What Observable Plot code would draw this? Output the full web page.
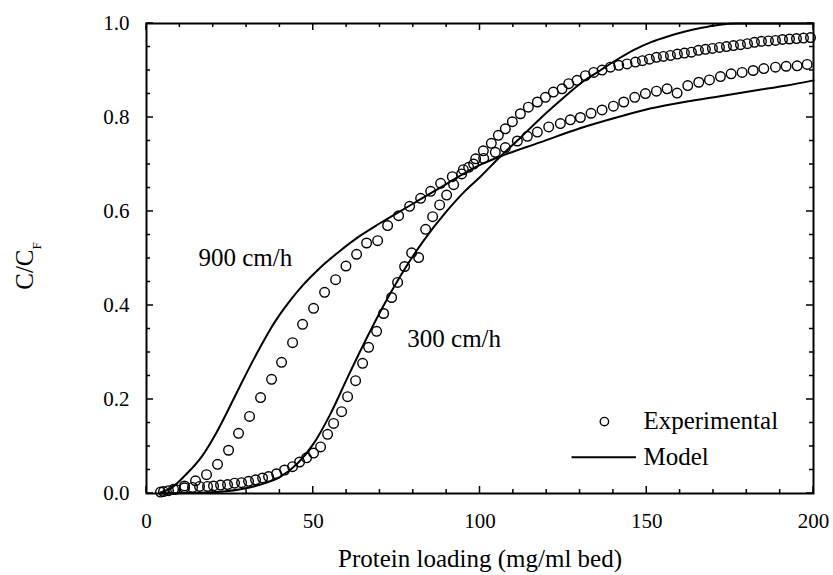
<!DOCTYPE html>
<html><head><meta charset="utf-8">
<script src="https://cdn.jsdelivr.net/npm/d3@7"></script>
<script src="https://cdn.jsdelivr.net/npm/@observablehq/plot@0.6"></script>
<style>body{margin:0;background:#fff}</style>
</head><body><div id="chart"></div>
<script>
// ---- data ----
const exp900X = [5.1,8.1,11.4,14.7,18.0,21.3,24.6,27.6,30.9,34.2,37.5,40.5,43.8,46.8,50.1,53.4,56.7,59.8,63.0,66.0,69.3,72.3,75.6,78.9,82.2,85.2,88.2,91.7,95.0,98.1,101.1,104.6,107.6,111.2,114.2,117.2,120.6,124.1,127.1,130.1,133.3,136.6,140.0,143.1,146.4,149.6,152.9,156.1,159.1,162.3,165.6,168.8,172.1,175.3,178.6,181.9,185.1,188.6,191.8,195.1,198.1];
const exp900Y = [0.004,0.009,0.016,0.027,0.040,0.062,0.092,0.128,0.164,0.204,0.243,0.279,0.321,0.360,0.394,0.428,0.455,0.484,0.509,0.533,0.538,0.570,0.591,0.611,0.628,0.643,0.660,0.674,0.689,0.701,0.713,0.726,0.736,0.750,0.760,0.769,0.780,0.787,0.795,0.800,0.809,0.816,0.824,0.833,0.843,0.851,0.856,0.861,0.852,0.868,0.875,0.880,0.887,0.893,0.896,0.900,0.904,0.907,0.909,0.910,0.913];

const exp300X = [4.2,6.6,8.7,11.4,13.8,15.9,18.3,20.1,22.2,24.3,26.4,28.5,30.6,32.7,34.8,36.6,39.0,41.4,43.8,45.9,48.0,50.1,52.2,54.3,56.1,58.5,60.3,62.7,64.8,66.6,69.0,71.1,73.5,75.3,77.4,79.5,81.6,83.7,85.8,87.9,90.0,92.1,94.5,96.6,98.7,101.0,103.4,105.5,107.6,109.7,112.1,114.5,117.2,119.6,122.0,124.6,126.6,129.1,131.6,134.1,136.6,139.1,141.6,144.1,146.6,148.7,150.8,152.9,155.0,157.1,159.2,161.3,163.4,165.5,167.6,169.7,171.8,173.9,176.0,178.1,180.2,182.3,184.4,186.5,188.6,190.7,192.8,194.9,197.0,199.1];
const exp300Y = [0.003,0.006,0.009,0.012,0.013,0.015,0.015,0.016,0.018,0.019,0.022,0.023,0.026,0.029,0.033,0.036,0.042,0.050,0.057,0.067,0.076,0.086,0.099,0.126,0.149,0.174,0.206,0.240,0.277,0.311,0.345,0.383,0.417,0.449,0.483,0.512,0.502,0.562,0.589,0.614,0.635,0.657,0.680,0.694,0.712,0.729,0.745,0.762,0.776,0.791,0.808,0.822,0.833,0.843,0.854,0.861,0.872,0.879,0.889,0.896,0.901,0.907,0.911,0.914,0.918,0.921,0.924,0.928,0.930,0.932,0.935,0.937,0.939,0.943,0.945,0.947,0.949,0.951,0.953,0.955,0.957,0.960,0.962,0.963,0.964,0.966,0.967,0.968,0.969,0.970];

const model900X = [4.2,7.5,11.5,16.5,21.0,25.0,28.0,31.0,34.0,37.0,40.0,43.0,46.0,49.0,52.0,58.0,64.0,70.0,80.0,90.0,100.0,106.0,118.0,130.0,142.0,151.0,162.0,172.0,182.0,192.0,200.0];
const model900Y = [0.002,0.012,0.038,0.078,0.130,0.185,0.228,0.270,0.310,0.348,0.381,0.410,0.436,0.459,0.480,0.516,0.548,0.575,0.617,0.659,0.699,0.717,0.747,0.777,0.802,0.819,0.834,0.845,0.857,0.868,0.879];

const model300X = [4.2,18.0,28.2,35.1,40.2,45.3,50.1,55.2,60.3,65.7,71.1,77.1,83.1,89.7,95.7,100.1,106.1,112.1,118.1,124.1,131.0,136.0,141.5,146.5,151.5,156.5,161.5,166.5,171.5,177.0,200.0];
const model300Y = [0.000,0.002,0.009,0.021,0.036,0.064,0.106,0.170,0.247,0.326,0.400,0.474,0.538,0.598,0.645,0.674,0.717,0.757,0.798,0.836,0.877,0.900,0.925,0.945,0.961,0.973,0.983,0.991,0.997,1.000,1.000];

const xMajor = [0, 50, 100, 150, 200];
const xMinor = [10,20,30,40,60,70,80,90,110,120,130,140,160,170,180,190];
const yMajor = [0, 0.2, 0.4, 0.6, 0.8, 1.0];
const yMinor = [0.05,0.1,0.15,0.25,0.3,0.35,0.45,0.5,0.55,0.65,0.7,0.75,0.85,0.9,0.95];
const yTickLabels = ["0.0","0.2","0.4","0.6","0.8","1.0"];

const seriesLabels = ["900 cm/h", "300 cm/h"];
const legendLabels = ["Experimental", "Model"];
const xTitle = "Protein loading (mg/ml bed)";

// ---- tables ----
const toRows = (xs, ys) => xs.map((x, i) => ({x, y: ys[i]}));
const e900 = toRows(exp900X, exp900Y);
const e300 = toRows(exp300X, exp300Y);
const m900 = toRows(model900X, model900Y);
const m300 = toRows(model300X, model300Y);

const FONT = "'Liberation Serif', 'Times New Roman', serif";

const chart = Plot.plot({
  width: 833, height: 575,
  marginLeft: 146, marginRight: 20, marginTop: 23, marginBottom: 82,
  x: {domain: [0, 200]},
  y: {domain: [0, 1]},
  style: {fontFamily: FONT, background: "white", color: "black"},
  marks: [
    Plot.axisX({ticks: xMajor, tickSize: 0, tickPadding: 20, fontSize: 21, label: null, tickFormat: d => String(d)}),
    Plot.axisY({ticks: yMajor, tickSize: 0, tickPadding: 17, fontSize: 21, label: null, tickFormat: d => yTickLabels[yMajor.indexOf(d)]}),
    Plot.line(m900, {x: "x", y: "y", stroke: "black", strokeWidth: 2, curve: "monotone-x"}),
    Plot.line(m300, {x: "x", y: "y", stroke: "black", strokeWidth: 2, curve: "monotone-x"}),
    Plot.dot(e900, {x: "x", y: "y", r: 4.8, stroke: "black", strokeWidth: 1.4, fill: "none"}),
    Plot.dot(e300, {x: "x", y: "y", r: 4.8, stroke: "black", strokeWidth: 1.4, fill: "none"}),
    Plot.text([seriesLabels[0]], {x: 15.6, y: 0.502, text: d => d, textAnchor: "start", fontSize: 25}),
    Plot.text([seriesLabels[1]], {x: 78.2, y: 0.328, text: d => d, textAnchor: "start", fontSize: 25}),
    // legend
    Plot.dot([0], {x: 137.3, y: 0.153, r: 4.2, stroke: "black", strokeWidth: 1.4, fill: "none"}),
    Plot.text([legendLabels[0]], {x: 149.0, y: 0.154, text: d => d, textAnchor: "start", fontSize: 25}),
    Plot.ruleY([0.077], {x1: 127.6, x2: 146.9, stroke: "black", strokeWidth: 2}),
    Plot.text([legendLabels[1]], {x: 149.0, y: 0.077, text: d => d, textAnchor: "start", fontSize: 25}),
    Plot.text([xTitle], {frameAnchor: "bottom", dy: 73, text: d => d, fontSize: 25}),
    Plot.frame({stroke: "black", strokeWidth: 2})
  ]
});

document.getElementById("chart").appendChild(chart);

// inward ticks on all four sides, placed with the plot's own scales
const sx = chart.scale("x"), sy = chart.scale("y");
const svg = d3.select(chart);
const g = svg.append("g").attr("stroke", "black").attr("stroke-width", 1.5);
const x0 = sx.apply(0), x1 = sx.apply(200), y0 = sy.apply(0), y1 = sy.apply(1);
function xt(v, len) {
  const px = sx.apply(v);
  g.append("line").attr("x1", px).attr("x2", px).attr("y1", y0).attr("y2", y0 - len);
  g.append("line").attr("x1", px).attr("x2", px).attr("y1", y1).attr("y2", y1 + len);
}
function yt(v, len) {
  const py = sy.apply(v);
  g.append("line").attr("y1", py).attr("y2", py).attr("x1", x0).attr("x2", x0 + len);
  g.append("line").attr("y1", py).attr("y2", py).attr("x1", x1).attr("x2", x1 - len);
}
xMajor.forEach(v => xt(v, 7));
xMinor.forEach(v => xt(v, 4));
yMajor.forEach(v => yt(v, 7));
yMinor.forEach(v => yt(v, 4));

// y-axis title C/C_F
const yTitle = svg.append("text")
  .attr("transform", `translate(33,${(y0 + y1) / 2 + 8}) rotate(-90)`)
  .attr("text-anchor", "middle")
  .attr("font-family", FONT)
  .attr("font-size", 25)
  .attr("fill", "black");
yTitle.append("tspan").text("C/C");
yTitle.append("tspan").attr("baseline-shift", "sub").attr("font-size", 13).text("F");
</script>
</body></html>
